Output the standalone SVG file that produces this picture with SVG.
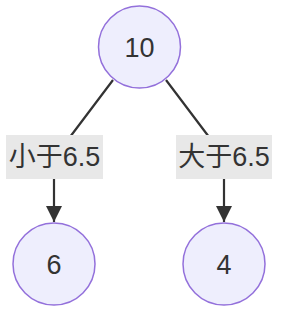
<svg xmlns="http://www.w3.org/2000/svg" width="281" height="312" viewBox="0 0 281 312">
<style>
.node circle{fill:#EEEEFD;stroke:#9370DB;stroke-width:1.5}
.node text{font-family:"Liberation Sans","Noto Sans CJK SC",sans-serif;font-size:27px;fill:#333;text-anchor:middle;dominant-baseline:central}
.edge{fill:none;stroke:#333;stroke-width:2.2}
.lbl rect{fill:#e8e8e8}
.lbl text{font-family:"Liberation Sans","Noto Sans CJK SC",sans-serif;font-size:27px;fill:#333;text-anchor:middle;dominant-baseline:central}
</style>
<defs>
<marker id="arr" viewBox="0 0 10 10" refX="10" refY="5" markerWidth="7.5" markerHeight="7.5" orient="auto" markerUnits="strokeWidth">
<path d="M0,0 L10,5 L0,10 z" fill="#333"/>
</marker>
</defs>
<g id="edges">
<path class="edge" d="M113,80 L70,137 L54,160 L54,222" marker-end="url(#arr)"/>
<path class="edge" d="M166,80 L209,137 L224,160 L224,222" marker-end="url(#arr)"/>
<g class="lbl" id="label-left"><rect x="6" y="135" width="97" height="44"/><text x="54.5" y="157">小于6.5</text></g>
<g class="lbl" id="label-right"><rect x="176" y="135" width="96" height="44"/><text x="224" y="157">大于6.5</text></g>
</g>
<g class="node" id="n10"><circle cx="139.5" cy="47" r="41"/><text x="139.5" y="48">10</text></g>
<g class="node" id="n6"><circle cx="54" cy="264" r="41"/><text x="54" y="265">6</text></g>
<g class="node" id="n4"><circle cx="224" cy="264" r="41"/><text x="224" y="265">4</text></g>
</svg>
